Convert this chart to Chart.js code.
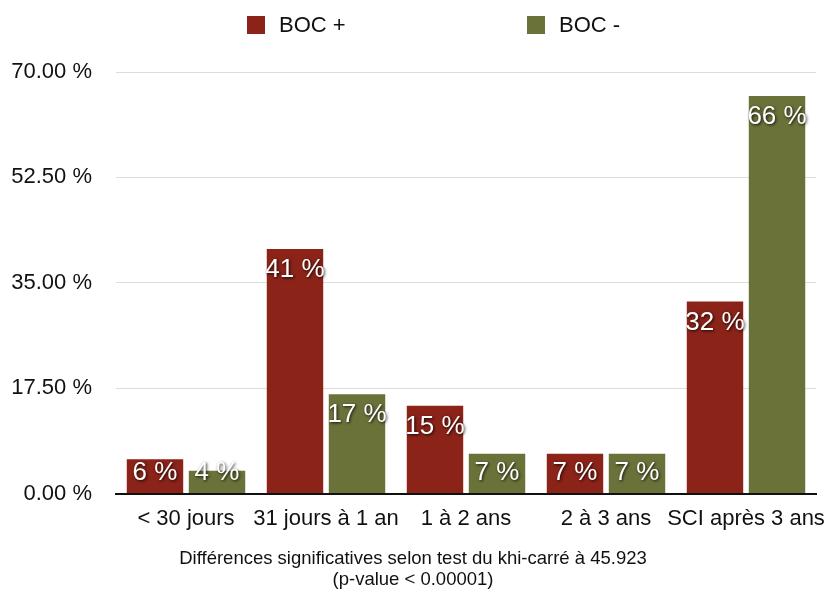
<!DOCTYPE html>
<html>
<head>
<meta charset="utf-8">
<script src="https://cdn.jsdelivr.net/npm/chart.js@4/dist/chart.umd.min.js"></script>
<style>
  html, body { margin: 0; padding: 0; background: #fff; }
  #wrap { width: 830px; height: 593px; }
</style>
</head>
<body>
<div id="wrap"><canvas id="c" width="830" height="593"></canvas></div>
<script>
// Délai de survenue, par groupe BOC (en % des patients)
const categories = ['< 30 jours', '31 jours à 1 an', '1 à 2 ans', '2 à 3 ans', 'SCI après 3 ans'];
const seriesNames = ['BOC +', 'BOC -'];
const bocPlus  = [5.7, 40.6, 14.6, 6.6, 31.9];
const bocMinus = [3.8, 16.5, 6.6, 6.6, 66.0];
const yTicks = [0, 17.5, 35, 52.5, 70];
const footnote = ['Différences significatives selon test du khi-carré à 45.923', '(p-value < 0.00001)'];

const RED = 'rgb(139,35,25)';
const GREEN = 'rgb(107,114,57)';
const FONT = "'Liberation Sans', Arial, Helvetica, sans-serif";

// Légende en haut, deux entrées largement espacées
const topLegend = {
  id: 'topLegend',
  afterDraw(chart) {
    const ctx = chart.ctx;
    const xs = [247, 527];
    ctx.save();
    ctx.font = '22px ' + FONT;
    ctx.textBaseline = 'middle';
    ctx.textAlign = 'left';
    chart.data.datasets.forEach((ds, i) => {
      ctx.fillStyle = ds.backgroundColor;
      ctx.fillRect(xs[i], 16, 18, 18);
      ctx.fillStyle = '#111';
      ctx.fillText(ds.label, xs[i] + 32, 26);
    });
    ctx.restore();
  }
};

// Valeurs arrondies en blanc, ombrées, dans le haut de chaque barre
const barValues = {
  id: 'barValues',
  afterDatasetsDraw(chart) {
    const ctx = chart.ctx;
    ctx.save();
    ctx.font = '26px ' + FONT;
    ctx.textAlign = 'center';
    ctx.textBaseline = 'middle';
    ctx.fillStyle = '#fff';
    ctx.shadowColor = 'rgba(0,0,0,0.85)';
    ctx.shadowBlur = 3;
    ctx.shadowOffsetX = 1;
    ctx.shadowOffsetY = 1;
    chart.data.datasets.forEach((ds, di) => {
      chart.getDatasetMeta(di).data.forEach((bar, i) => {
        const y = Math.min(bar.y + 21, bar.base - 20);
        ctx.fillText(Math.round(ds.data[i]) + ' %', bar.x, y);
      });
    });
    ctx.restore();
  }
};

new Chart(document.getElementById('c'), {
  type: 'bar',
  data: {
    labels: categories,
    datasets: [
      { label: seriesNames[0], data: bocPlus, backgroundColor: RED },
      { label: seriesNames[1], data: bocMinus, backgroundColor: GREEN }
    ]
  },
  options: {
    responsive: false,
    animation: false,
    devicePixelRatio: 1,
    layout: { padding: { left: 10, right: 14, top: 72, bottom: 0 } },
    datasets: { bar: { categoryPercentage: 0.886, barPercentage: 0.91 } },
    plugins: {
      legend: { display: false },
      tooltip: { enabled: false },
      title: {
        display: true,
        position: 'bottom',
        text: footnote,
        color: '#111',
        font: { family: FONT, size: 18.5, weight: 'normal', lineHeight: 1.135 },
        padding: { top: 4, bottom: 3 }
      }
    },
    scales: {
      x: {
        afterFit(scale) { scale.paddingLeft = 0; scale.paddingRight = 0; },
        grid: { display: false, drawTicks: false },
        border: { display: true, color: '#111', width: 2 },
        ticks: { color: '#111', font: { family: FONT, size: 22 }, padding: 12, maxRotation: 0, autoSkip: false }
      },
      y: {
        min: 0,
        max: 70,
        afterBuildTicks(scale) { scale.ticks = yTicks.map(v => ({ value: v })); },
        afterFit(scale) { scale.width = 106; },
        grid: {
          drawTicks: false,
          color: ctx => (ctx.tick && ctx.tick.value === 0) ? 'rgba(0,0,0,0)' : '#dcdcdc',
          lineWidth: 1
        },
        border: { display: false },
        ticks: {
          color: '#111',
          font: { family: FONT, size: 22 },
          padding: 24,
          callback: v => Number(v).toFixed(2) + ' %'
        }
      }
    }
  },
  plugins: [topLegend, barValues]
});
</script>
</body>
</html>
